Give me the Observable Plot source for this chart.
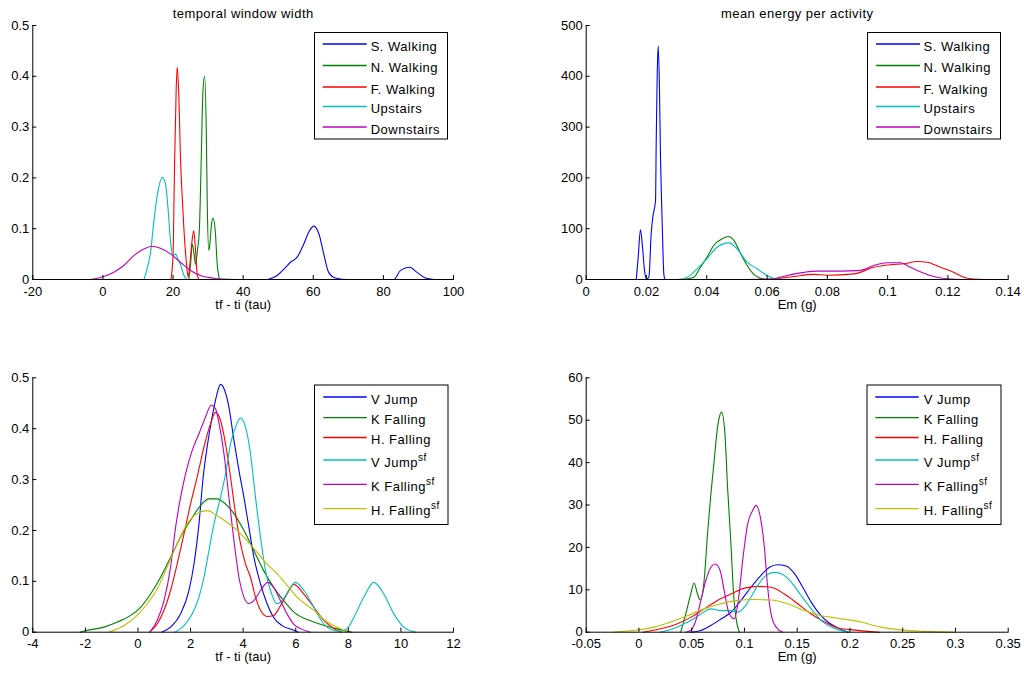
<!DOCTYPE html>
<html>
<head>
<meta charset="utf-8">
<script src="https://cdn.jsdelivr.net/npm/d3@7"></script>
<script src="https://cdn.jsdelivr.net/npm/@observablehq/plot@0.6"></script>
<style>
  html, body { margin: 0; padding: 0; background: #fff; }
  #chart { position: relative; width: 1024px; height: 673px; overflow: hidden; background: #fff; }
  #chart svg { position: absolute; }
</style>
</head>
<body>
<div id="chart"></div>
<script>
// ---------- Data ----------
const walkNames = ["S. Walking", "N. Walking", "F. Walking", "Upstairs", "Downstairs"];
const walkColors = ["#0000ff", "#008000", "#ff0000", "#00bfbf", "#bf00bf"];
const fallNames = ["V Jump", "K Falling", "H. Falling", "V Jump sf", "K Falling sf", "H. Falling sf"];
const fallColors = ["#0000ff", "#008000", "#ff0000", "#00bfbf", "#bf00bf", "#bfbf00"];

// Panel 1: temporal window width (tf - ti, tau)
const twSWalking = [[47,0],[49.7,0.008],[52.1,0.024],[53.5,0.034],[55.4,0.044],[57.3,0.07],[58.7,0.093],[60.15,0.105],[61.6,0.09],[63,0.05],[64.4,0.014],[66.3,0.003],[70,0],[83,0],[84.9,0.018],[87.5,0.024],[89.6,0.014],[92,0.003],[94.4,0]];
const twNWalking = [[24.5,0],[25,0.03],[25.5,0.07],[26,0.05],[26.4,0.03],[27,0.06],[27.5,0.096],[28.1,0.254],[28.5,0.366],[29,0.4],[29.5,0.287],[29.75,0.155],[30.2,0.057],[30.5,0.07],[31,0.11],[31.4,0.121],[32.1,0.09],[32.6,0.03],[33.3,0]];
const twFWalking = [[19.4,0],[20,0.047],[20.4,0.211],[20.9,0.375],[21.2,0.418],[21.65,0.362],[22.1,0.244],[22.6,0.165],[23.1,0.1],[23.8,0.034],[24.3,0.005],[24.8,0.03],[25.4,0.075],[25.9,0.096],[26.3,0.07],[26.9,0.01],[27.4,0]];
const twUpstairs = [[11.7,0],[12.6,0.021],[13.6,0.054],[14.5,0.113],[15.5,0.165],[16.9,0.201],[17.85,0.188],[18.5,0.146],[19.3,0.075],[19.9,0.047],[20.7,0.05],[21.4,0.04],[22.1,0.03],[23,0.01],[24,0]];
const twDownstairs = [[-3.7,0],[-0.2,0.005],[3.1,0.0144],[5.96,0.0276],[8.8,0.047],[11.66,0.06],[14.05,0.0656],[16.4,0.0617],[19.3,0.0505],[22.1,0.034],[25,0.0177],[27.8,0.0079],[31.6,0.0026],[38,0]];
const twXTicks = [-20, 0, 20, 40, 60, 80, 100];
const twYTicks = [0, 0.1, 0.2, 0.3, 0.4, 0.5];

// Panel 2: mean energy per activity (Em, g)
const emSWalking = [[0.0166,0],[0.01725,44],[0.018,98],[0.01868,64],[0.01934,18],[0.02,1],[0.0208,5],[0.02156,90],[0.0221,123],[0.023,155],[0.02322,267],[0.02355,402],[0.02389,460],[0.02432,372],[0.02465,241],[0.025,155],[0.02531,90],[0.02575,11],[0.0261,0]];
const emNWalking = [[0.0324,0],[0.0357,4.5],[0.0379,24],[0.0401,44],[0.0423,67],[0.0451,80],[0.0471,84.6],[0.049,77],[0.0512,51],[0.0534,27.5],[0.0556,10],[0.0578,2.6],[0.06,0]];
const emFWalking = [[0.0578,0],[0.0622,1],[0.0689,6],[0.0755,10],[0.08,8.5],[0.0888,11],[0.0954,24],[0.101,29],[0.1054,31],[0.1098,35.4],[0.1131,34],[0.1175,24],[0.122,14],[0.1253,4.5],[0.1286,1],[0.135,0]];
const emUpstairs = [[0.0302,0],[0.0335,4],[0.0368,21],[0.0401,41],[0.0435,64],[0.0473,72],[0.0501,60],[0.0534,34],[0.0567,21],[0.06,8],[0.0634,1],[0.0668,0]];
const emDownstairs = [[0.0534,0],[0.0622,1.5],[0.0667,8],[0.0722,14],[0.0766,16.4],[0.0844,16.4],[0.091,18],[0.0954,27.5],[0.0999,33],[0.1043,33],[0.1076,24],[0.112,12.5],[0.1164,4.5],[0.1209,1],[0.1245,0]];
const emXTicks = [0, 0.02, 0.04, 0.06, 0.08, 0.1, 0.12, 0.14];
const emYTicks = [0, 100, 200, 300, 400, 500];

// Panel 3: falls, temporal window width
const tfVJump = [[0.9,0],[1.24,0.01],[1.62,0.036],[1.94,0.082],[2.13,0.134],[2.32,0.213],[2.48,0.305],[2.63,0.364],[2.82,0.423],[2.99,0.465],[3.14,0.487],[3.3,0.475],[3.46,0.442],[3.65,0.377],[3.84,0.318],[4.03,0.265],[4.22,0.206],[4.41,0.147],[4.66,0.095],[4.91,0.056],[5.16,0.029],[5.48,0.013],[5.92,0.004],[6.1,0]];
const tfKFalling = [[-2.2,0],[-1.99,0.003],[-1.29,0.01],[-0.78,0.02],[-0.28,0.033],[0.1,0.049],[0.48,0.075],[0.86,0.108],[1.24,0.147],[1.62,0.187],[2,0.22],[2.38,0.249],[2.7,0.262],[3.01,0.262],[3.33,0.252],[3.65,0.233],[4.03,0.2],[4.41,0.16],[4.78,0.121],[5.16,0.088],[5.54,0.062],[5.92,0.04],[6.69,0.02],[7.45,0.008],[8.15,0]];
const tfHFalling = [[0.45,0],[0.73,0.016],[0.99,0.043],[1.24,0.082],[1.49,0.134],[1.75,0.193],[2,0.252],[2.25,0.305],[2.51,0.364],[2.76,0.41],[2.95,0.432],[3.14,0.416],[3.33,0.37],[3.52,0.305],[3.71,0.233],[3.9,0.174],[4.09,0.134],[4.28,0.108],[4.47,0.069],[4.66,0.043],[4.91,0.031],[5.16,0.033],[5.42,0.052],[5.67,0.075],[5.93,0.094],[6.31,0.075],[6.69,0.049],[7.07,0.023],[7.45,0.007],[7.74,0]];
const tfVJumpSf = [[1.4,0],[1.75,0.013],[2.06,0.036],[2.32,0.069],[2.51,0.108],[2.7,0.161],[2.89,0.213],[3.14,0.265],[3.33,0.311],[3.52,0.37],[3.71,0.403],[3.9,0.421],[4.09,0.403],[4.28,0.351],[4.47,0.265],[4.66,0.187],[4.85,0.121],[5.04,0.082],[5.29,0.056],[5.54,0.066],[5.8,0.088],[5.99,0.098],[6.31,0.082],[6.69,0.049],[7.01,0.02],[7.32,0.006],[7.7,0.002],[8,0.01],[8.21,0.029],[8.59,0.069],[8.97,0.098],[9.35,0.075],[9.73,0.036],[10.11,0.01],[10.56,0]];
const tfKFallingSf = [[0.45,0],[0.73,0.023],[0.99,0.062],[1.24,0.128],[1.43,0.206],[1.62,0.265],[1.81,0.311],[2.06,0.357],[2.32,0.39],[2.57,0.423],[2.78,0.446],[2.95,0.439],[3.11,0.403],[3.27,0.351],[3.46,0.265],[3.65,0.18],[3.84,0.108],[4.03,0.069],[4.22,0.056],[4.41,0.062],[4.66,0.082],[4.94,0.098],[5.16,0.088],[5.42,0.062],[5.67,0.036],[5.92,0.016],[6.18,0.007],[6.56,0]];
const tfHFallingSf = [[-1.1,0],[-0.53,0.013],[-0.03,0.033],[0.35,0.056],[0.73,0.085],[1.11,0.128],[1.49,0.174],[1.87,0.213],[2.25,0.233],[2.63,0.239],[3.01,0.229],[3.39,0.216],[3.77,0.2],[4.15,0.18],[4.53,0.157],[4.91,0.134],[5.29,0.115],[5.67,0.092],[6.05,0.069],[6.69,0.043],[7.2,0.02],[7.7,0.007],[7.96,0]];
const tfXTicks = [-4, -2, 0, 2, 4, 6, 8, 10, 12];
const tfYTicks = [0, 0.1, 0.2, 0.3, 0.4, 0.5];

// Panel 4: falls, mean energy
const efVJump = [[0.049,0],[0.0587,0.4],[0.0682,1.6],[0.0777,3.1],[0.0872,4.7],[0.0967,7.5],[0.1062,10.6],[0.1157,13.4],[0.1237,15.3],[0.1316,15.9],[0.1395,15.6],[0.1474,13.8],[0.1553,10.6],[0.1633,7.1],[0.1712,4.3],[0.1791,2.4],[0.1871,1.2],[0.198,0]];
const efKFalling = [[0.0396,0],[0.0444,4.3],[0.0491,9],[0.0523,11.6],[0.0555,9],[0.058,7.6],[0.0618,12.2],[0.065,23.2],[0.0682,32.6],[0.0713,40.5],[0.0745,48.3],[0.0783,51.9],[0.0815,46.8],[0.084,34.2],[0.0872,20.8],[0.0897,9],[0.0919,3.5],[0.0951,0]];
const efHFalling = [[0.004,0],[0.0206,0.8],[0.0365,2],[0.049,3.5],[0.0618,5.5],[0.0745,7.5],[0.0872,9],[0.0999,10.4],[0.1126,10.8],[0.1252,10.6],[0.1379,9],[0.1506,6.7],[0.1633,4.3],[0.176,2.4],[0.1886,1],[0.2,0.6],[0.228,0]];
const efVJumpSf = [[0.02,0],[0.027,0.4],[0.0396,1.6],[0.049,2.75],[0.0587,4.3],[0.0682,5.5],[0.0777,5.1],[0.0872,5.1],[0.0935,4.7],[0.0999,5.9],[0.1062,8.3],[0.1126,11],[0.1205,13.4],[0.1284,14.1],[0.1363,13.6],[0.1443,11.8],[0.1538,8.6],[0.1633,5.5],[0.1728,2.75],[0.1823,1.2],[0.2,0]];
const efKFallingSf = [[0.0444,0],[0.049,0.4],[0.0539,2.75],[0.0587,7.5],[0.0634,12.2],[0.0682,15.3],[0.0723,16.1],[0.077,14.5],[0.0808,9.8],[0.0856,4.3],[0.0905,3.2],[0.0942,7.5],[0.0983,16.9],[0.103,25.5],[0.1078,28.7],[0.111,29.9],[0.1151,27.1],[0.1189,20],[0.122,10.6],[0.1252,4.3],[0.13,1.2],[0.1363,0]];
const efHFallingSf = [[-0.024,0],[-0.0016,0.5],[0.0143,1.2],[0.0301,2.4],[0.046,3.9],[0.0618,5.5],[0.0777,6.7],[0.0935,7.5],[0.1094,7.7],[0.1252,7.6],[0.1411,6.7],[0.157,5.1],[0.1728,3.9],[0.1886,3.3],[0.2104,2.4],[0.2294,1.2],[0.2484,0.55],[0.27,0.2],[0.3,0]];
const efXTicks = [-0.05, 0, 0.05, 0.1, 0.15, 0.2, 0.25, 0.3, 0.35];
const efYTicks = [0, 10, 20, 30, 40, 50, 60];

const titles = ["temporal window width", "mean energy per activity"];
const xLabels = ["tf - ti (tau)", "Em (g)"];

// ---------- Build ----------
const FONT = "'Liberation Sans', Arial, Helvetica, sans-serif";
const chart = document.getElementById("chart");

function tidy(names, seriesList) {
  return seriesList.flatMap((pts, i) => pts.map(([x, y]) => ({series: names[i], x, y})));
}

function panel({left, top, width, height, mL, mR, mT, mB, xDomain, yDomain, xTicks, yTicks, names, colors, series, title, xLabel}) {
  const marks = [
    Plot.line(tidy(names, series), {x: "x", y: "y", z: "series", stroke: "series", strokeWidth: 1.1, curve: "monotone-x"}),
    Plot.frame({anchor: "bottom", stroke: "#000"}),
    Plot.frame({anchor: "left", stroke: "#000"}),
    Plot.axisX(xTicks, {tickSize: -4, tickPadding: 11, tickFormat: d => String(d), label: null, stroke: "#000"}),
    Plot.axisY(yTicks, {tickSize: -4, tickPadding: 7.5, tickFormat: d => String(d), label: null, stroke: "#000"}),
    Plot.text([xLabel], {text: d => d, frameAnchor: "bottom", dy: 29, fontSize: 13, fontWeight: "normal"})
  ];
  if (title) marks.push(Plot.text([title], {text: d => d, frameAnchor: "top", dy: -16.5, fontSize: 13, fontWeight: "normal"}));
  const svg = Plot.plot({
    width, height,
    marginLeft: mL, marginRight: mR, marginTop: mT, marginBottom: mB,
    style: {fontFamily: FONT, fontSize: "13px", color: "#000", background: "transparent", overflow: "visible"},
    x: {domain: xDomain},
    y: {domain: yDomain},
    color: {domain: names, range: colors},
    marks
  });
  if (title) {
    d3.select(svg).selectAll("text").filter(function () { return this.textContent === title; })
      .style("letter-spacing", "0.45px");
  }
  svg.style.left = left + "px";
  svg.style.top = top + "px";
  chart.appendChild(svg);
}

panel({left: 0, top: 0, width: 512, height: 336, mL: 32.3, mR: 59, mT: 25, mB: 57,
  xDomain: [-20, 100], yDomain: [0, 0.5], xTicks: twXTicks, yTicks: twYTicks,
  names: walkNames, colors: walkColors,
  series: [twSWalking, twNWalking, twFWalking, twUpstairs, twDownstairs],
  title: titles[0], xLabel: xLabels[0]});

panel({left: 512, top: 0, width: 512, height: 336, mL: 73.7, mR: 16.3, mT: 25, mB: 57,
  xDomain: [0, 0.14], yDomain: [0, 500], xTicks: emXTicks, yTicks: emYTicks,
  names: walkNames, colors: walkColors,
  series: [emSWalking, emNWalking, emFWalking, emUpstairs, emDownstairs],
  title: titles[1], xLabel: xLabels[1]});

panel({left: 0, top: 336, width: 512, height: 337, mL: 32.3, mR: 59, mT: 41.3, mB: 41.3,
  xDomain: [-4, 12], yDomain: [0, 0.5], xTicks: tfXTicks, yTicks: tfYTicks,
  names: fallNames, colors: fallColors,
  series: [tfVJump, tfKFalling, tfHFalling, tfVJumpSf, tfKFallingSf, tfHFallingSf],
  title: null, xLabel: xLabels[0]});

panel({left: 512, top: 336, width: 512, height: 337, mL: 73.7, mR: 16.3, mT: 41.3, mB: 41.3,
  xDomain: [-0.05, 0.35], yDomain: [0, 60], xTicks: efXTicks, yTicks: efYTicks,
  names: fallNames, colors: fallColors,
  series: [efVJump, efKFalling, efHFalling, efVJumpSf, efKFallingSf, efHFallingSf],
  title: null, xLabel: xLabels[1]});

// ---------- Legends (boxed, MATLAB style) ----------
const overlay = d3.create("svg")
  .attr("width", 1024).attr("height", 673)
  .style("left", "0px").style("top", "0px")
  .style("font-family", FONT).style("font-size", "13px");

function legend({bx, by, bw, bh, lx1, lx2, tx, rows, names, colors}) {
  const g = overlay.append("g");
  g.append("rect").attr("x", bx + 0.5).attr("y", by + 0.5).attr("width", bw).attr("height", bh)
    .attr("fill", "#fff").attr("stroke", "#000").attr("stroke-width", 1);
  names.forEach((name, i) => {
    const y = rows[i];
    g.append("line").attr("x1", lx1).attr("x2", lx2).attr("y1", y).attr("y2", y)
      .attr("stroke", colors[i]).attr("stroke-width", 1.3);
    const t = g.append("text").attr("x", tx).attr("y", y + 6.5).attr("fill", "#000")
      .style("letter-spacing", "0.5px");
    const m = name.match(/^(.*) sf$/);
    if (m) {
      t.append("tspan").text(m[1]);
      t.append("tspan").attr("dy", -6).style("font-size", "10px").text("sf");
    } else {
      t.text(name);
    }
  });
}

legend({bx: 314, by: 32, bw: 133, bh: 106.5, lx1: 322.7, lx2: 366.7, tx: 370.7,
  rows: [44, 65.5, 87, 106.5, 127], names: walkNames, colors: walkColors});
legend({bx: 867, by: 32, bw: 133, bh: 106.5, lx1: 876, lx2: 920, tx: 923.5,
  rows: [44, 65.5, 87, 106.5, 127], names: walkNames, colors: walkColors});
legend({bx: 314, by: 384.5, bw: 133.5, bh: 139.5, lx1: 323.3, lx2: 366.7, tx: 371,
  rows: [397, 417.7, 437.5, 460, 484.3, 508.7], names: fallNames, colors: fallColors});
legend({bx: 866.5, by: 384.5, bw: 134, bh: 139.5, lx1: 875.3, lx2: 918.7, tx: 923.7,
  rows: [397, 417.7, 437.5, 460, 484.3, 508.7], names: fallNames, colors: fallColors});

chart.appendChild(overlay.node());
</script>
</body>
</html>
